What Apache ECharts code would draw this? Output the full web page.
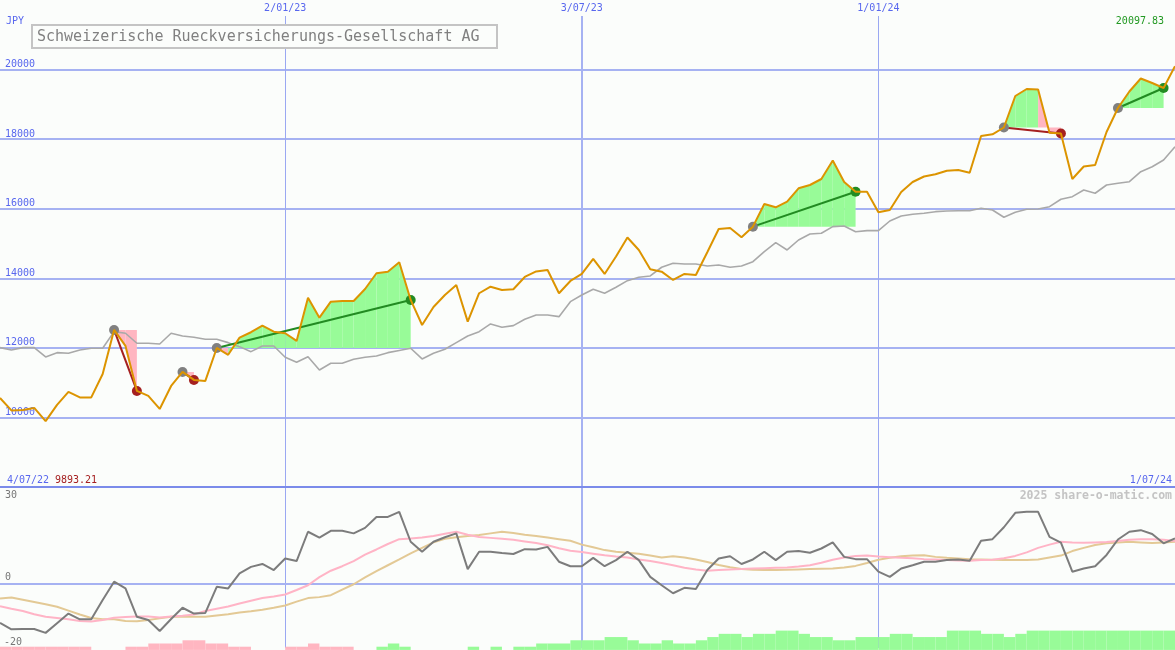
<!DOCTYPE html>
<html><head><meta charset="utf-8">
<script src="https://cdn.jsdelivr.net/npm/echarts/dist/echarts.min.js"></script>
<style>html,body{margin:0;padding:0;background:#fbfdfb;}#c{width:1175px;height:650px;}</style>
</head><body><div id="c"></div>
<script>
const title = 'Schweizerische Rueckversicherungs-Gesellschaft AG';
const currency = 'JPY';
const startLabel = '4/07/22';
const endLabel = '1/07/24';
const minLabel = '9893.21';
const lastLabel = '20097.83';
const watermark = '2025 share-o-matic.com';

const price = [10560,10201,10215,10273,9893.21,10359,10733,10575,10575,11250,
12515,12055,10762,10618,10244,10905,11308,11078,11049,11997,
11800,12294,12449,12638,12466,12420,12199,13443,12868,13328,
13348,13348,13693,14144,14190,14460,13377,12658,13176,13521,
13808,12753,13570,13759,13664,13684,14038,14196,14239,13570,
13923,14124,14555,14124,14627,15173,14814,14259,14190,13952,
14124,14095,14750,15417,15446,15179,15484,16136,16041,16202,
16587,16682,16854,17386,16768,16489,16489,15897,15964,16481,
16768,16926,16990,17093,17113,17036,18090,18139,18335,19240,
19441,19427,18185,18162,16854,17214,17257,18205,18895,19369,
19743,19614,19470,20097.83];

const bench = [12006,11940,12006,12006,11739,11862,11845,11940,11989,11989,
12466,12420,12133,12133,12112,12420,12342,12305,12247,12247,
12150,12035,11891,12055,12055,11730,11586,11747,11365,11558,
11558,11673,11730,11768,11862,11926,11989,11681,11845,11960,
12150,12342,12466,12687,12592,12638,12822,12946,12946,12897,
13328,13521,13684,13570,13742,13932,14029,14067,14317,14432,
14412,14412,14354,14383,14317,14354,14478,14765,15024,14814,
15101,15274,15294,15484,15504,15340,15369,15369,15647,15791,
15840,15869,15915,15935,15943,15943,16012,15964,15754,15897,
15984,15992,16058,16271,16346,16538,16444,16682,16731,16777,
17064,17208,17401,17783];

const osc = [-12.2,-14.2,-14.1,-14.1,-15.3,-12.3,-9.3,-11.1,-11.1,-5.1,
0.6,-1.5,-10.3,-11.3,-14.7,-11.0,-7.5,-9.3,-9.1,-1.0,
-1.5,3.2,5.2,6.1,4.2,7.8,7.0,16.1,14.3,16.4,
16.4,15.6,17.3,20.7,20.7,22.3,13.0,9.9,13.0,14.4,
15.6,4.5,9.9,9.9,9.5,9.2,10.7,10.6,11.4,6.8,
5.4,5.4,8.0,5.4,7.3,9.9,7.3,2.1,-0.5,-3.0,
-1.3,-1.7,4.2,7.8,8.5,6.1,7.5,9.9,7.3,9.9,
10.1,9.6,10.9,12.8,8.3,7.6,7.6,3.7,2.1,4.7,
5.7,6.8,6.8,7.3,7.5,7.1,13.3,13.8,17.5,22.0,
22.3,22.3,14.5,12.7,3.7,4.7,5.4,8.9,13.7,16.1,
16.6,15.4,12.5,14.0];

const sig = [-7.0,-7.8,-8.5,-9.5,-10.3,-10.7,-11.1,-11.6,-11.8,-11.3,
-10.6,-10.4,-10.2,-10.2,-10.5,-10.2,-10.0,-9.6,-8.5,-7.8,
-7.1,-6.2,-5.3,-4.5,-4.0,-3.4,-2.0,-0.5,2.0,4.0,
5.4,7.0,9.0,10.6,12.3,13.8,14.0,14.3,14.8,15.5,
16.1,15.2,14.5,14.2,13.9,13.6,13.1,12.6,11.9,11.0,
10.2,9.8,9.3,8.8,8.4,8.1,7.5,7.0,6.4,5.7,
4.9,4.4,4.0,4.2,4.4,4.5,4.7,4.8,4.9,5.0,
5.3,5.7,6.5,7.4,8.1,8.6,8.7,8.4,8.2,8.0,
7.9,7.6,7.5,7.3,7.2,7.1,7.3,7.4,7.9,8.6,
9.7,11.1,12.1,13.0,12.8,12.7,12.8,12.9,13.2,13.6,
13.8,13.8,13.6,13.2];

const slow = [-4.6,-4.3,-5.0,-5.7,-6.4,-7.2,-8.4,-9.6,-10.7,-11.1,
-11.1,-11.6,-11.7,-11.3,-10.8,-10.3,-10.3,-10.3,-10.3,-9.9,
-9.5,-9.0,-8.6,-8.1,-7.5,-6.8,-5.6,-4.5,-4.2,-3.6,
-1.9,-0.2,1.9,3.9,5.7,7.5,9.4,11.1,12.8,13.9,
14.4,14.8,15.1,15.6,16.1,15.7,15.2,14.8,14.3,13.8,
13.3,12.1,11.3,10.4,9.9,9.6,9.3,8.7,8.1,8.5,
8.1,7.5,6.7,5.8,5.1,4.5,4.3,4.2,4.2,4.3,
4.4,4.5,4.6,4.7,5.0,5.5,6.4,7.4,8.0,8.5,
8.7,8.8,8.3,8.0,7.8,7.6,7.5,7.4,7.3,7.3,
7.3,7.5,8.1,8.7,10.1,11.1,12.0,12.5,12.8,13.0,
12.8,12.6,12.8,13.0];

// signed histogram level for each week segment (negative = pink, positive = green)
const bars = [-1,-1,-1,-1,-1,-1,-1,-1,0,0,0,-1,-1,-2,-2,-2,-3,-3,-2,-2,-1,-1,0,0,0,-1,-1,-2,-1,-1,-1,0,0,
1,2,1,0,0,0,0,0,1,0,1,0,1,1,2,2,2,3,3,3,4,4,3,2,2,3,2,2,3,4,5,5,4,5,5,6,6,5,4,4,3,3,4,4,4,5,5,4,4,4,
6,6,6,5,5,4,5,6,6,6,6,6,6,6,6,6,6,6,6,6];

const tradeEntry = [10, 16, 19, 66, 88, 98];
const tradeExit  = [12, 17, 36, 75, 93, 102];

const xTickIndex = [25, 51, 77];
const xTickLabels = ['2/01/23', '3/07/23', '1/01/24'];
const majorTick = 51;
const priceTicks = [10000, 12000, 14000, 16000, 18000, 20000];
const oscTicks = [30, 0, -20];

const cats = price.map((_, i) => i);
const MONO = 'DejaVu Sans Mono';
const BLUE = '#5867ee';
const GRIDC = '#a6b2f2';
const GRIDV = '#9aa8f2';
const BG = '#fbfdfb';
const GREEN_FILL = '#98fb98';
const PINK_FILL = '#ffb6c1';
const WIN = '#228b22';
const LOSS = '#a52020';
const BAR_BASE = -20.6;

function renderFill(params, api) {
  const k = params.dataIndex;
  const e = tradeEntry[k], x = tradeExit[k];
  const L = price[e];
  const children = [];
  for (let i = e; i < x; i++) {
    const a = api.coord([i, L]), b = api.coord([i, price[i]]),
          c = api.coord([i + 1, price[i + 1]]), d = api.coord([i + 1, L]);
    children.push({type: 'polygon', shape: {points: [a, b, c, d]},
      style: {fill: price[i + 1] >= L ? GREEN_FILL : PINK_FILL}});
  }
  return {type: 'group', children};
}
function renderTrade(params, api) {
  const k = params.dataIndex;
  const e = tradeEntry[k], x = tradeExit[k];
  const p0 = api.coord([e, price[e]]), p1 = api.coord([x, price[x]]);
  const col = price[x] >= price[e] ? WIN : LOSS;
  return {type: 'group', children: [
    {type: 'line', shape: {x1: p0[0], y1: p0[1], x2: p1[0], y2: p1[1]}, style: {stroke: col, lineWidth: 2}},
    {type: 'circle', shape: {cx: p0[0], cy: p0[1], r: 5}, style: {fill: '#808080'}},
    {type: 'circle', shape: {cx: p1[0], cy: p1[1], r: 5}, style: {fill: col}}
  ]};
}
function renderBar(params, api) {
  const k = params.dataIndex;
  const L = bars[k];
  if (!L) return null;
  const p0 = api.coord([k, BAR_BASE]);
  const p1 = api.coord([k + 1, BAR_BASE + Math.abs(L)]);
  return {type: 'rect', shape: {x: p0[0], y: p1[1], width: p1[0] - p0[0], height: p0[1] - p1[1]},
    style: {fill: L > 0 ? GREEN_FILL : PINK_FILL}};
}

const minorInterval = (i) => xTickIndex.includes(i) && i !== majorTick;
const majorInterval = (i) => i === majorTick;
const hiddenCat = (grid, extra) => Object.assign({
  gridIndex: grid, type: 'category', data: cats, boundaryGap: false,
  axisLine: {show: false, onZero: false}, axisTick: {show: false}, axisLabel: {show: false}
}, extra);

const chart = echarts.init(document.getElementById('c'));
chart.setOption({
  animation: false,
  backgroundColor: BG,
  grid: [
    {left: 0, right: 0, top: 16, height: 471},
    {left: 0, right: 0, top: 487, height: 161}
  ],
  xAxis: [
    hiddenCat(0, {position: 'top',
      axisLabel: {show: true, interval: (i) => xTickIndex.includes(i),
        formatter: (v, i) => { const j = xTickIndex.indexOf(i); return j >= 0 ? xTickLabels[j] : ''; },
        color: BLUE, fontFamily: MONO, fontSize: 10, margin: 3},
      splitLine: {show: true, interval: minorInterval, lineStyle: {color: GRIDV, width: 1}}}),
    hiddenCat(0, {splitLine: {show: true, interval: majorInterval, lineStyle: {color: GRIDC, width: 2}}}),
    hiddenCat(1, {position: 'top', axisLine: {show: true, onZero: false, lineStyle: {color: '#7b8bea', width: 2}},
      splitLine: {show: true, interval: minorInterval, lineStyle: {color: GRIDV, width: 1}}}),
    hiddenCat(1, {splitLine: {show: true, interval: majorInterval, lineStyle: {color: GRIDC, width: 2}}})
  ],
  yAxis: [
    {gridIndex: 0, type: 'value', min: 8000, max: 21540, interval: 2000,
      axisLine: {show: false}, axisTick: {show: false},
      axisLabel: {inside: true, showMinLabel: false, showMaxLabel: false, color: BLUE, fontFamily: MONO,
        fontSize: 10, verticalAlign: 'bottom', margin: 5,
        formatter: (v) => priceTicks.includes(v) ? String(v) : ''},
      splitLine: {show: true, showMinLine: false, showMaxLine: false, lineStyle: {color: GRIDC, width: 2}}},
    {gridIndex: 1, type: 'value', min: -20, max: 30, interval: 10,
      axisLine: {show: false}, axisTick: {show: false}, axisLabel: {show: false}, splitLine: {show: false}}
  ],
  series: [
    {type: 'custom', name: 'fills', xAxisIndex: 0, yAxisIndex: 0, z: 1, silent: true,
      data: tradeEntry.map((e) => [e, price[e]]), renderItem: renderFill},
    {type: 'line', name: 'bench', xAxisIndex: 0, yAxisIndex: 0, z: 2, data: bench, symbol: 'none',
      silent: true, lineStyle: {color: '#a9a9a9', width: 1.6}},
    {type: 'custom', name: 'trades', xAxisIndex: 0, yAxisIndex: 0, z: 3, silent: true,
      data: tradeEntry.map((e) => [e, price[e]]), renderItem: renderTrade},
    {type: 'line', name: 'price', xAxisIndex: 0, yAxisIndex: 0, z: 4, data: price, symbol: 'none',
      silent: true, lineStyle: {color: '#dc9400', width: 2}},
    {type: 'custom', name: 'bars', xAxisIndex: 2, yAxisIndex: 1, z: 1, silent: true, clip: false,
      data: bars.map((b, i) => [i, b]), renderItem: renderBar},
    {type: 'line', name: 'slow', xAxisIndex: 2, yAxisIndex: 1, z: 6, data: slow, symbol: 'none', silent: true,
      lineStyle: {color: '#e3c995', width: 2},
      markLine: {silent: true, symbol: 'none', label: {show: false}, data: [{yAxis: 0}],
        lineStyle: {color: GRIDC, width: 2, type: 'solid'}}},
    {type: 'line', name: 'sig', xAxisIndex: 2, yAxisIndex: 1, z: 7, data: sig, symbol: 'none', silent: true,
      lineStyle: {color: '#ffb4c6', width: 2}},
    {type: 'line', name: 'osc', xAxisIndex: 2, yAxisIndex: 1, z: 8, data: osc, symbol: 'none', silent: true,
      lineStyle: {color: '#7c7c7c', width: 2}}
  ]
});

const txt = (x, y, text, fill, extra) => ({type: 'text', x, y, z: 100, silent: true,
  style: Object.assign({text, fill, font: '10px ' + MONO, verticalAlign: 'middle'}, extra || {})});
const oscLabels = oscTicks.map((v, i) => {
  const y = chart.convertToPixel({yAxisIndex: 1}, v);
  const top = i === 0;
  return txt(v < 0 ? 4 : 5, top ? y + 3 : y - 1, String(v), '#777777', {verticalAlign: top ? 'top' : 'bottom'});
});
chart.setOption({graphic: [
  {type: 'rect', z: 99, silent: true, shape: {x: 32, y: 25, width: 465, height: 23},
    style: {fill: BG, stroke: '#c4c4c4', lineWidth: 2}},
  txt(37, 37, title, '#808080', {font: '15px ' + MONO}),
  txt(6, 21, currency, BLUE),
  txt(1164, 21, lastLabel, '#229922', {align: 'right'}),
  txt(7, 480, startLabel, BLUE),
  txt(55, 480, minLabel, LOSS),
  txt(1172, 480, endLabel, BLUE, {align: 'right'}),
  txt(1172, 496, watermark, '#c4c4c4', {align: 'right', font: 'bold 11.5px ' + MONO}),
  ...oscLabels
]});
</script>
</body></html>
